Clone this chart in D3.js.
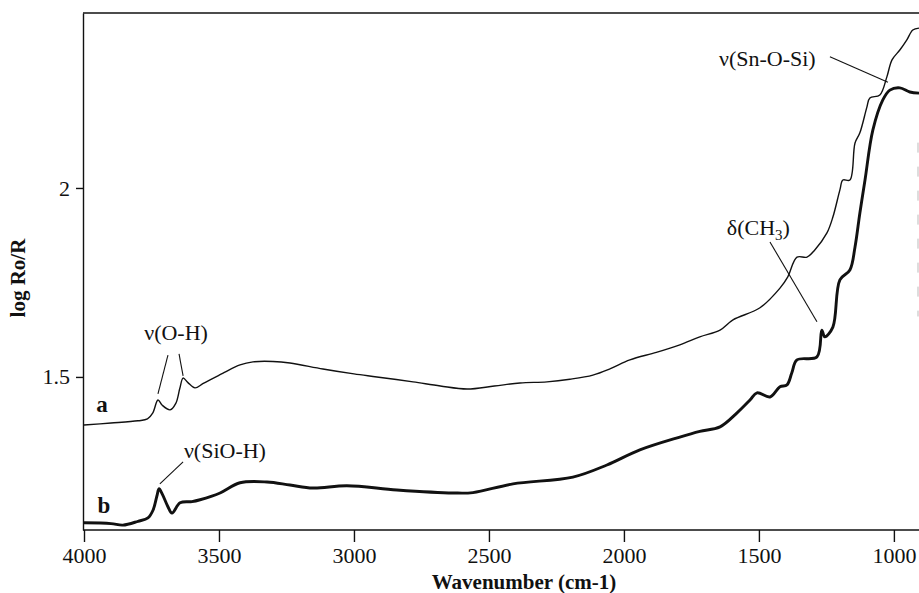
<!DOCTYPE html>
<html>
<head>
<meta charset="utf-8">
<script src="https://cdn.jsdelivr.net/npm/d3@7"></script>
<style>
  html, body { margin: 0; padding: 0; background: #fff; }
  svg { display: block; }
  text { font-family: "Liberation Serif", "Times New Roman", serif; fill: #111; }
</style>
</head>
<body>
<svg id="chart" width="919" height="593"></svg>
<script>
// ---- data ----
const xTicks = [4000, 3500, 3000, 2500, 2000, 1500, 1000];
const yTicks = [1.5, 2];
const xLabel = "Wavenumber (cm-1)";
const yLabel = "log Ro/R";

// spectrum a (thin): [wavenumber, log Ro/R]
const seriesA = [
  [4000,1.373],[3900,1.378],[3800,1.384],[3765,1.389],[3745,1.405],[3726,1.439],[3710,1.425],
  [3681,1.413],[3660,1.430],[3645,1.470],[3633,1.497],[3615,1.485],[3589,1.471],[3560,1.482],
  [3533,1.492],[3480,1.512],[3422,1.532],[3374,1.540],[3300,1.541],[3237,1.537],[3115,1.521],
  [3000,1.508],[2915,1.500],[2781,1.487],[2680,1.476],[2581,1.468],[2480,1.476],[2385,1.484],
  [2285,1.487],[2200,1.494],[2115,1.505],[2050,1.522],[1978,1.545],[1880,1.565],[1793,1.585],
  [1719,1.606],[1644,1.624],[1596,1.651],[1496,1.683],[1422,1.735],[1393,1.765],[1359,1.817],
  [1322,1.817],[1293,1.836],[1248,1.881],[1226,1.923],[1200,1.995],[1189,2.021],[1163,2.021],
  [1144,2.119],[1126,2.146],[1100,2.214],[1089,2.238],[1052,2.246],[1026,2.294],[1007,2.339],
  [978,2.365],[952,2.392],[930,2.418],[907,2.423]
];

// spectrum b (thick)
const seriesB = [
  [4000,1.114],[3900,1.112],[3856,1.108],[3800,1.118],[3763,1.127],[3744,1.148],[3730,1.185],
  [3722,1.204],[3710,1.190],[3690,1.158],[3674,1.140],[3644,1.167],[3600,1.170],[3570,1.175],
  [3496,1.193],[3422,1.220],[3322,1.222],[3237,1.214],[3152,1.206],[3026,1.212],[2841,1.201],
  [2633,1.193],[2559,1.194],[2411,1.217],[2189,1.235],[2063,1.267],[1941,1.307],[1793,1.341],
  [1719,1.356],[1644,1.368],[1581,1.405],[1533,1.439],[1507,1.458],[1459,1.447],[1422,1.474],
  [1396,1.479],[1378,1.511],[1359,1.545],[1285,1.553],[1267,1.624],[1256,1.606],[1226,1.632],
  [1200,1.757],[1163,1.783],[1144,1.844],[1126,1.934],[1107,2.021],[1078,2.153],[1041,2.233],
  [1015,2.259],[978,2.265],[941,2.254],[907,2.251]
];

// curve labels and peak annotations (data coordinates)
const curveLabels = [
  { text: "a", w: 3955, v: 1.407 },
  { text: "b", w: 3950, v: 1.140 }
];
const annotations = [
  { text: "ν(O-H)", w: 3659, v: 1.597, anchor: "middle",
    lines: [[[3689,1.558],[3726,1.455]], [[3648,1.561],[3633,1.503]]] },
  { text: "ν(SiO-H)", w: 3630, v: 1.285, anchor: "start",
    lines: [[[3633,1.275],[3719,1.217]]] },
  { text: "ν(Sn-O-Si)", w: 1648, v: 2.323, anchor: "start",
    lines: [[[1237,2.347],[1022,2.280]]] },
  { text: "δ(CH", sub: "3", tail: ")", w: 1619, v: 1.875, anchor: "start",
    lines: [[[1459,1.857],[1285,1.646]]] }
];

// ---- chart ----
(function () {
const svg = d3.select("#chart");
const pLeft = 83, pRight = 919, pTop = 13, pBottom = 530;

const x = d3.scaleLinear().domain([4000, 907]).range([84, 919]);
const y = d3.scaleLinear().domain([1.095, 2.463]).range([pBottom, pTop]);

// top border
svg.append("line")
  .attr("x1", pLeft).attr("x2", pRight).attr("y1", pTop).attr("y2", pTop)
  .attr("stroke", "#111").attr("stroke-width", 1.4);

// faint remains of the right frame
svg.append("line")
  .attr("x1", 918).attr("x2", 918).attr("y1", y(2.12)).attr("y2", y(1.66))
  .attr("stroke", "#bbb").attr("stroke-width", 1).attr("stroke-dasharray", "10,14");

// x axis
const gx = svg.append("g").attr("transform", `translate(0,${pBottom})`)
  .call(d3.axisBottom(x).tickValues(xTicks).tickFormat(d3.format("d"))
    .tickSize(12).tickSizeOuter(0).tickPadding(5));
gx.select(".domain").attr("d", `M${pLeft},0H${pRight}`).attr("stroke", "#111").attr("stroke-width", 1.4);
gx.selectAll(".tick line").attr("stroke", "#111").attr("stroke-width", 1.4);
gx.selectAll(".tick text").attr("font-size", 22).attr("font-family", "Liberation Serif, serif").attr("fill", "#111");

// y axis
const gy = svg.append("g").attr("transform", `translate(${pLeft},0)`)
  .call(d3.axisLeft(y).tickValues(yTicks).tickFormat(d => d === 2 ? "2" : d3.format(".1f")(d))
    .tickSize(7).tickSizeOuter(0).tickPadding(6));
gy.select(".domain").attr("stroke", "#111").attr("stroke-width", 1.4);
gy.selectAll(".tick line").attr("stroke", "#111").attr("stroke-width", 1.4);
gy.selectAll(".tick text").attr("font-size", 22).attr("font-family", "Liberation Serif, serif").attr("fill", "#111");

// axis titles
svg.append("text")
  .attr("x", 524).attr("y", 589)
  .attr("text-anchor", "middle").attr("font-size", 21).attr("font-weight", "bold")
  .text(xLabel);
svg.append("text")
  .attr("transform", "translate(25,278) rotate(-90)")
  .attr("text-anchor", "middle").attr("font-size", 21).attr("font-weight", "bold")
  .text(yLabel);

// curves
const line = d3.line().x(d => x(d[0])).y(d => y(d[1])).curve(d3.curveCatmullRom.alpha(0.5));
svg.append("path").datum(seriesA).attr("d", line)
  .attr("fill", "none").attr("stroke", "#111").attr("stroke-width", 1.4).attr("stroke-linejoin", "round");
svg.append("path").datum(seriesB).attr("d", line)
  .attr("fill", "none").attr("stroke", "#111").attr("stroke-width", 2.9).attr("stroke-linejoin", "round");

// curve labels
svg.selectAll(".clabel").data(curveLabels).enter().append("text")
  .attr("class", "clabel")
  .attr("x", d => x(d.w)).attr("y", d => y(d.v))
  .attr("font-size", 23).attr("font-weight", "bold")
  .text(d => d.text);

// annotations
annotations.forEach(a => {
  const t = svg.append("text")
    .attr("x", x(a.w)).attr("y", y(a.v))
    .attr("text-anchor", a.anchor).attr("font-size", 22);
  t.append("tspan").text(a.text);
  if (a.sub) {
    t.append("tspan").attr("font-size", 15).attr("dy", 5).text(a.sub);
    t.append("tspan").attr("dy", -5).text(a.tail);
  }
  a.lines.forEach(l => {
    svg.append("line")
      .attr("x1", x(l[0][0])).attr("y1", y(l[0][1]))
      .attr("x2", x(l[1][0])).attr("y2", y(l[1][1]))
      .attr("stroke", "#111").attr("stroke-width", 1.1);
  });
});
})();
</script>
</body>
</html>
